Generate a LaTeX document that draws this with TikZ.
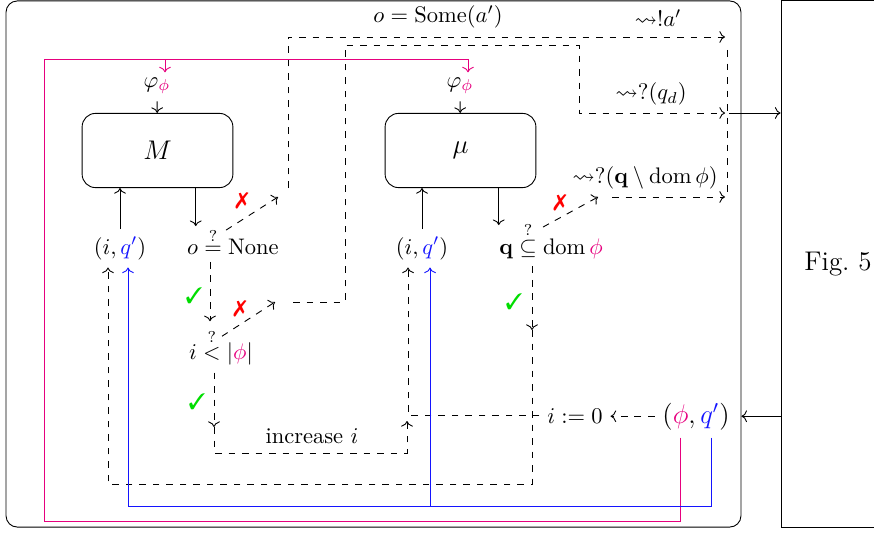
\documentclass[tikz,border=0pt]{standalone}
\usepackage{amsmath}
\usepackage{amssymb}
\usepackage{pifont}
\usepackage{tikz}
\usetikzlibrary{arrows.meta, positioning, calc}
\definecolor{myPink}{HTML}{E6007E}
\definecolor{myBlue}{HTML}{1414FF}
\definecolor{myGreen}{HTML}{00DD00}
\definecolor{myRed}{HTML}{FF0000}

\begin{document}
\begin{tikzpicture}[
x=0.4444pt, y=-0.4444pt,
box/.style={
draw,
rounded corners=6pt,
minimum width=67pt,
minimum height=33pt,
font=\large
},
lbl/.style={anchor=base},
arrow/.style={->},
flow/.style={->, dashed},
pinkline/.style={myPink},
blueline/.style={myBlue},
yes/.style={text=myGreen},
no/.style={text=myRed}
]
\useasboundingbox (0,0) rectangle (874,534);

\node[draw, rounded corners=5pt, minimum width=326.6pt, minimum height=233.8pt] (agent) at (373.5,264) {};
\node[draw, minimum width=50.7pt, minimum height=233.8pt, font=\large] (env) at (838,264) {Fig.~5};

\node[box] (M) at (157.5,150.5) {$M$};
\node[box] (mu) at (460.5,150.5) {$\mu$};
\node[lbl] (phiM) at (157,87) {$\varphi_{\color{myPink}\phi}$};
\node[lbl] (phimu) at (460,87) {$\varphi_{\color{myPink}\phi}$};

\node[lbl] (iq1) at (120,254) {$(i,{\color{myBlue}q'})$};
\node[lbl] (onone) at (233,254) {$o \stackrel{?}{=} \mathrm{None}$};
\node[lbl] (iq2) at (422,254) {$(i,{\color{myBlue}q'})$};
\node[lbl] (qdom) at (551,254) {$\mathbf{q} \stackrel{?}{\subseteq} \operatorname{dom}{\color{myPink}\phi}$};
\node[lbl] (ilt) at (221,359) {$i \stackrel{?}{<} |{\color{myPink}\phi}|$};
\node[lbl] (incr) at (312,443) {increase $i$};
\node[lbl] (izero) at (575,423) {$i := 0$};
\node[lbl, font=\large] (phiq) at (696,423) {$({\color{myPink}\phi},{\color{myBlue}q'})$};

\node[lbl] (some) at (438,23) {$o = \mathrm{Some}(a')$};
\node[lbl] (send) at (658,27) {$\leadsto !a'$};
\node[lbl] (askd) at (651,100) {$\leadsto ?(q_d)$};
\node[lbl] (askq) at (645,183) {$\leadsto ?(\mathbf{q} \setminus \operatorname{dom}\phi)$};

\node[yes] (ok1) at (194,296) {\ding{51}};
\node[yes] (ok2) at (197,402) {\ding{51}};
\node[yes] (ok3) at (514,302) {\ding{51}};
\node[no] (no1) at (242,201) {\ding{55}};
\node[no] (no2) at (240,309) {\ding{55}};
\node[no] (no3) at (560,203) {\ding{55}};

\coordinate (noneX) at (278,197);
\coordinate (ltX) at (275,302);
\coordinate (qX) at (598,197);
\coordinate (incIn) at (214,427);
\coordinate (incOut) at (407,421);
\coordinate (qIn) at (532,330);
\coordinate (outQ) at (729,113);

\draw[arrow] (phiM) -- (M);
\draw[arrow] (phimu) -- (mu);
\draw[arrow] (iq1.north) -- (iq1.north |- M.south);
\draw[arrow] (iq2.north) -- (iq2.north |- mu.south);
\draw[arrow] ([xshift=17pt]M.south) -- ++(0,38);
\draw[arrow] ([xshift=17pt]mu.south) -- ++(0,37);

\draw[flow] ($(onone.north)+(-7,10)$) -- (noneX);
\draw[flow] (288,188) |- (725,37);
\draw[flow] ($(ilt.north)+(1,15)$) -- (ltX);
\draw[flow] (293,302) -| (345,45) -| (579,113) -- (725,113);
\draw[flow] ($(qdom.north)+(-8,13)$) -- (qX);
\draw[flow] (612,197) -- (725,197);
\draw[dashed] (727,50) -- (727,192);
\draw[arrow] (outQ) -- (outQ -| env.west);
\draw[arrow] (env.west |- phiq) -- (agent.east |- phiq);

\draw[flow] ($(onone.south)+(-23,0)$) -- ($(ilt.north)+(-11,0)$);
\draw[flow] ($(ilt.south)+(-7,0)$) -- (incIn);
\draw[flow] (incIn) |- (407,453) -- (incOut);
\draw[flow] (phiq.west) -- (phiq.west -| izero.east);
\draw[flow] (izero.west) -| ($(iq2.south)+(-14,0)$);
\draw[flow] ($(qdom.south)+(-19,0)$) -- (qIn);
\draw[flow] (qIn) |- (108,484) -- ($(iq1.south)+(-12,0)$);

\draw[pinkline, ->] ($(phiq.south)+(-16,0)$) |- (44,521) |- ($(phimu.north)+(8,-10)$) -- ($(phimu.north)+(8,3)$);
\draw[pinkline, ->] ($(phiM.north)+(8,-10)$) -- ($(phiM.north)+(8,3)$);
\draw[blueline, ->] ($(phiq.south)+(15,0)$) |- (128,506) -- ($(iq1.south)+(8,0)$);
\draw[blueline, ->] (430,506) -- ($(iq2.south)+(8,0)$);

\end{tikzpicture}
\end{document}
